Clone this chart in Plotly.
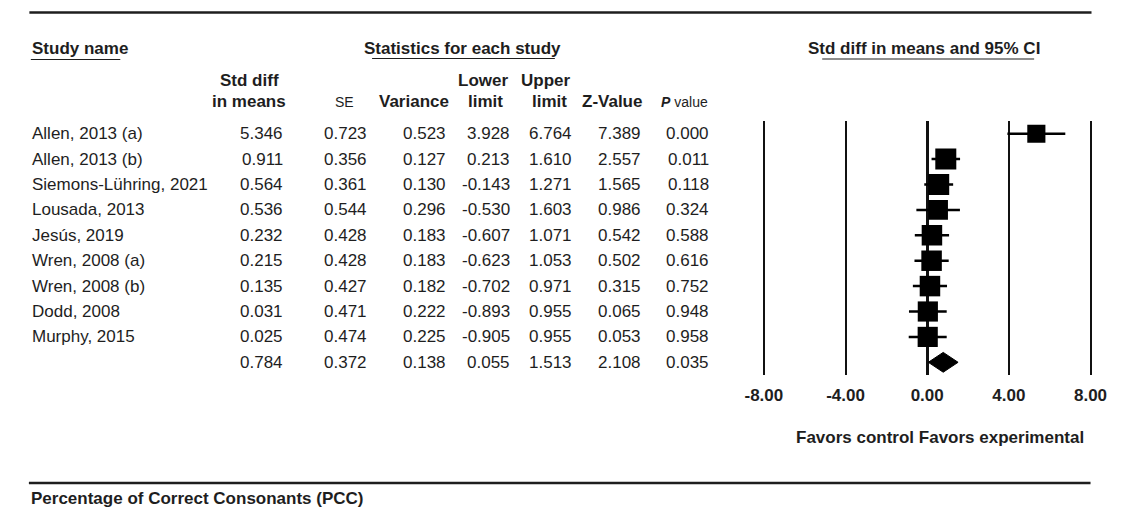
import numpy as np
import plotly.graph_objects as go

# ---------------- data ----------------
study_names = ["Allen, 2013 (a)", "Allen, 2013 (b)", "Siemons-Lühring, 2021", "Lousada, 2013",
               "Jesús, 2019", "Wren, 2008 (a)", "Wren, 2008 (b)", "Dodd, 2008", "Murphy, 2015", ""]
std_diff = [5.346, 0.911, 0.564, 0.536, 0.232, 0.215, 0.135, 0.031, 0.025, 0.784]
se = [0.723, 0.356, 0.361, 0.544, 0.428, 0.428, 0.427, 0.471, 0.474, 0.372]
variance = [0.523, 0.127, 0.130, 0.296, 0.183, 0.183, 0.182, 0.222, 0.225, 0.138]
lower = [3.928, 0.213, -0.143, -0.530, -0.607, -0.623, -0.702, -0.893, -0.905, 0.055]
upper = [6.764, 1.610, 1.271, 1.603, 1.071, 1.053, 0.971, 0.955, 0.955, 1.513]
z_value = [7.389, 2.557, 1.565, 0.986, 0.542, 0.502, 0.315, 0.065, 0.053, 2.108]
p_value = [0.000, 0.011, 0.118, 0.324, 0.588, 0.616, 0.752, 0.948, 0.958, 0.035]
tick_vals = [-8, -4, 0, 4, 8]
tick_labels = ["-8.00", "-4.00", "0.00", "4.00", "8.00"]
axis_title = "Favors control Favors experimental"
section_title = "Percentage of Correct Consonants (PCC)"

# page is 1123x515; the browser's default body margin (8px) offsets the figure
PAGE_W, PAGE_H = 1123, 515
OFF = 8
W, H = PAGE_W - OFF, PAGE_H - OFF

n_studies = 9
rows = list(range(len(study_names)))
summary_row = rows[-1]

# random-effects weights (DerSimonian-Laird) for box sizes
v = np.array(variance[:n_studies])
yv = np.array(std_diff[:n_studies])
w = 1 / v
ybar = (w * yv).sum() / w.sum()
Q = (w * (yv - ybar) ** 2).sum()
C = w.sum() - (w ** 2).sum() / w.sum()
tau2 = max(0.0, (Q - (n_studies - 1)) / C)
w_re = 1 / (v + tau2)
box_sizes = list(21 * np.sqrt(w_re / w_re.max()))


def px_x(p):
    return (p - OFF) / W


def px_y(p):
    return 1 - (p - OFF) / H


FONT = "Liberation Sans, Arial, sans-serif"
TXT = "#1e1e1e"

fig = go.Figure()

# confidence intervals
cx, cy = [], []
for i in rows[:n_studies]:
    cx += [lower[i], upper[i], None]
    cy += [i, i, None]
fig.add_trace(go.Scatter(x=cx, y=cy, mode="lines", line=dict(color="black", width=2.5),
                         hoverinfo="skip", showlegend=False))
# boxes
fig.add_trace(go.Scatter(x=std_diff[:n_studies], y=rows[:n_studies], mode="markers",
                         marker=dict(symbol="square", size=box_sizes, color="black",
                                     opacity=1, line=dict(width=0)),
                         showlegend=False))
# summary diamond
h = 0.39
fig.add_trace(go.Scatter(
    x=[lower[summary_row], std_diff[summary_row], upper[summary_row], std_diff[summary_row], lower[summary_row]],
    y=[summary_row, summary_row - h, summary_row, summary_row + h, summary_row],
    mode="lines", fill="toself", fillcolor="black", line=dict(color="black", width=1),
    showlegend=False))

# table cells
col_specs = [
    (std_diff, 275), (se, 362), (variance, 443.5), (lower, 508.5),
    (upper, 572.5), (z_value, 643.5), (p_value, 713.5),
]
ann = []
for i in rows:
    if study_names[i]:
        ann.append(dict(x=px_x(13), y=i, xref="paper", yref="y", text=study_names[i],
                        xanchor="left", yanchor="middle", showarrow=False,
                        font=dict(family=FONT, size=17, color=TXT)))
    for vals, xr in col_specs:
        ann.append(dict(x=px_x(xr), y=i, xref="paper", yref="y", text=f"{vals[i]:.3f}",
                        xanchor="right", yanchor="middle", showarrow=False,
                        font=dict(family=FONT, size=17, color=TXT)))


def head(text, x, y, anchor="center", size=17, bold=True):
    t = f"<b>{text}</b>" if bold else text
    ann.append(dict(x=px_x(x), y=px_y(y), xref="paper", yref="paper", text=t,
                    xanchor=anchor, yanchor="middle", showarrow=False,
                    font=dict(family=FONT, size=size, color=TXT)))


head("Study name", 13, 49, "left")
head("Statistics for each study", 457.5, 49)
head("Std diff in means and 95% CI", 933, 49)
head("Std diff", 238.5, 80)
head("in means", 238.5, 101)
head("SE", 348, 102, "right", size=14, bold=False)
head("Variance", 446, 101, "right")
head("Lower", 479.5, 80)
head("limit", 482, 101)
head("Upper", 544, 80)
head("limit", 547, 101)
head("Z-Value", 645, 101, "right")
ann.append(dict(x=px_x(713), y=px_y(102), xref="paper", yref="paper",
                text="<b><i>P</i></b> value", xanchor="right", yanchor="middle", showarrow=False,
                font=dict(family=FONT, size=14, color=TXT)))
head(axis_title, 949.5, 437)
head(section_title, 12, 498, "left")

shapes = []


def rule(x0, x1, y, wdt):
    shapes.append(dict(type="line", xref="paper", yref="paper", x0=px_x(x0), x1=px_x(x1),
                       y0=px_y(y), y1=px_y(y), line=dict(color=TXT, width=wdt)))


rule(12.5, 1105, 12.5, 2.5)
rule(12, 1104, 483, 2.5)
rule(14, 106, 59.5, 1.2)
rule(365, 553, 58.5, 1.2)
rule(828, 1046, 59, 1.2)

fig.update_layout(
    width=W, height=H, autosize=False,
    margin=dict(l=0, r=0, t=0, b=0),
    paper_bgcolor="white", plot_bgcolor="white",
    annotations=ann, shapes=shapes, showlegend=False,
    xaxis=dict(domain=[px_x(765.9), px_x(1106.1)], range=[-8.1, 8.1],
               tickvals=tick_vals, ticktext=tick_labels,
               showgrid=True, gridcolor="#111", gridwidth=2,
               zeroline=True, zerolinecolor="#111", zerolinewidth=2.5,
               showline=False, ticks="", ticklabelstandoff=8,
               tickfont=dict(family=FONT, size=17, color=TXT, weight="bold"),
               fixedrange=True),
    yaxis=dict(domain=[px_y(375), px_y(121)], range=[9.5, -0.5],
               showgrid=False, zeroline=False, showticklabels=False, showline=False,
               fixedrange=True),
)

fig.write_html("out.html")
